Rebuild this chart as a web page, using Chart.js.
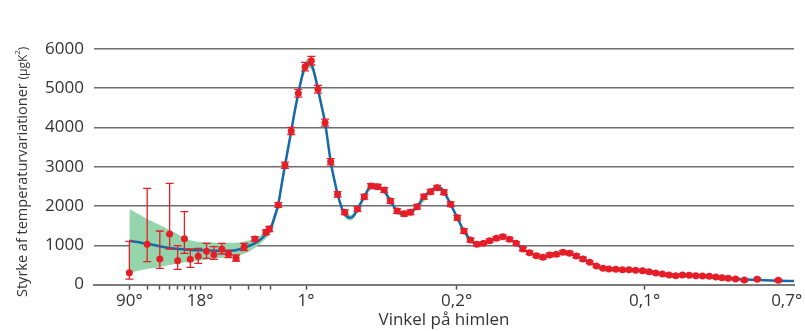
<!DOCTYPE html>
<html lang="da">
<head>
<meta charset="UTF-8">
<title>Styrke af temperaturvariationer</title>
<script src="https://cdn.jsdelivr.net/npm/chart.js"></script>
<style>
  html, body { margin: 0; padding: 0; background: #fff; }
</style>
</head>
<body>
<canvas id="cmb" width="805" height="331"></canvas>
<script>
// multipole l for every mark; the x axis is log up to l=50 and linear beyond
const xTickL    = [2, 3, 4, 5, 6, 7, 8, 9, 10, 20, 30, 40, 50, 219, 940, 1840, 2520];
const xTickText = ['90°', '', '', '', '', '', '', '', '18°', '', '', '', '', '1°', '0,2°', '0,1°', '0,7°'];
const yTicks    = [0, 1000, 2000, 3000, 4000, 5000, 6000];

// low-l points with their (asymmetric) error bars
const lowL  = [2, 3, 4, 5, 6, 7, 8, 9.6, 11.6, 13.7, 16.4, 19.1, 22.7, 27.3, 34.8, 44.8, 48.4];
const lowD  = [303, 1026, 652, 1288, 608, 1168, 644, 720, 847, 761, 906, 771, 669, 957, 1160, 1331, 1415];
const lowLo = [140, 583, 415, 906, 389, 797, 440, 542, 669, 644, 779, 685, 601, 863, 1100, 1270, 1350];
const lowHi = [1102, 2451, 1364, 2578, 990, 1855, 906, 924, 1051, 965, 1051, 873, 753, 1051, 1220, 1390, 1480];

// binned high-l points, symmetric errors
const highL = [86, 118, 148, 182, 214, 244, 276, 310, 337, 370, 404, 465, 498, 530, 562, 593, 623, 655, 689, 719,
               751, 783, 815, 847, 879, 911, 943, 975, 1006, 1037, 1069, 1098, 1130, 1161, 1193, 1225, 1257, 1289,
               1321, 1353, 1385, 1417, 1449, 1481, 1513, 1545, 1577, 1609, 1641, 1669, 1702, 1734, 1765, 1797,
               1830, 1861, 1893, 1925, 1957, 1989, 2021, 2053, 2085, 2117, 2149, 2181, 2210, 2240, 2275, 2317, 2379, 2480];
const highD = [2026, 3036, 3909, 4869, 5546, 5698, 4970, 4120, 3128, 2298, 1840, 1924, 2237, 2509, 2492, 2408, 2128, 1873, 1804, 1840,
               1983, 2237, 2364, 2466, 2349, 2044, 1703, 1364, 1135, 1026, 1051, 1117, 1178, 1219, 1153, 1051, 906, 812,
               736, 695, 753, 771, 822, 797, 728, 652, 568, 473, 415, 397, 389, 379, 379, 364,
               354, 328, 295, 270, 244, 227, 244, 237, 227, 219, 211, 193, 176, 160, 143, 117, 135, 109];
const highErr = [60, 80, 90, 100, 110, 110, 100, 90, 80, 70, 60, 60, 60, 60, 60, 60, 60, 60, 60, 60,
                 60, 60, 60, 60, 60, 60, 60, 60, 45, 45, 45, 45, 45, 45, 45, 45, 45, 45,
                 45, 45, 45, 45, 45, 45, 45, 45, 30, 30, 30, 30, 30, 30, 30, 30,
                 30, 30, 30, 30, 30, 30, 30, 30, 30, 30, 30, 30, 30, 30, 30, 30, 30, 30];

// best-fit model curve
const theoryL = [2, 3, 4, 5, 7, 10, 14, 18, 23, 29, 37, 46, 50, 60, 70, 86, 100, 118, 133, 148, 165, 182, 200, 214, 231,
                 248, 262, 276, 293, 310, 337, 355, 370, 390, 404, 430, 448, 465, 498, 520, 541, 562, 593, 623, 655,
                 687, 719, 751, 783, 815, 847, 865, 879, 911, 943, 975, 1006, 1037, 1069, 1098, 1130, 1161, 1193,
                 1225, 1257, 1289, 1321, 1353, 1385, 1417, 1449, 1481, 1513, 1545, 1577, 1609, 1641, 1673, 1705,
                 1765, 1830, 1893, 1957, 2021, 2085, 2149, 2210, 2275, 2380, 2480, 2555];
const theoryD = [1117, 1040, 975, 930, 895, 873, 860, 855, 880, 965, 1092, 1306, 1433, 1580, 1750, 2040, 2480, 3036, 3470, 3909, 4420, 4869, 5300, 5546, 5640,
                 5560, 5300, 4970, 4550, 4120, 3128, 2650, 2298, 1950, 1790, 1700, 1760, 1924, 2237, 2450, 2530, 2500, 2380, 2128, 1873,
                 1789, 1840, 1983, 2237, 2380, 2480, 2450, 2360, 2044, 1703, 1364, 1140, 1030, 1051, 1117, 1178, 1210, 1150,
                 1051, 906, 812, 736, 700, 745, 780, 810, 790, 728, 652, 568, 480, 420, 397, 389,
                 375, 350, 295, 248, 238, 225, 208, 178, 145, 120, 100, 90];

// cosmic variance band
const bandL  = [2, 3, 4, 5, 6, 7, 8, 9, 10, 12, 15, 20, 25, 30, 37, 46, 50, 60, 70, 86, 100, 118, 133, 148, 165, 182, 200, 214, 231,
                248, 262, 276, 293, 310, 337, 355, 370, 390, 404, 430, 448, 465, 498, 541, 593, 655, 687, 751, 815, 847, 879, 911, 975, 1037, 1100];
const bandHi = [1924, 1672, 1519, 1390, 1288, 1191, 1130, 1095, 1085, 1075, 1065, 1065, 1080, 1120, 1200, 1400, 1540, 1690, 1860, 2160, 2600, 3160, 3590, 4030, 4540, 4990, 5420, 5660, 5760,
                5680, 5420, 5090, 4670, 4230, 3230, 2740, 2380, 2020, 1860, 1770, 1830, 1990, 2300, 2590, 2440, 1930, 1850, 2040, 2440, 2540, 2420, 2100, 1420, 1080, 1160];
const bandLo = [303, 394, 450, 500, 530, 560, 580, 600, 615, 640, 670, 700, 750, 830, 980, 1210, 1330, 1470, 1640, 1920, 2360, 2910, 3350, 3790, 4300, 4750, 5180, 5430, 5520,
                5440, 5180, 4850, 4430, 4010, 3030, 2560, 2220, 1880, 1720, 1630, 1690, 1860, 2170, 2470, 2320, 1810, 1730, 1920, 2320, 2420, 2300, 1990, 1310, 980, 1075];

const RED = '#e61e28';
const BLUE = '#1769aa';
const GREEN = '#95d5ab';
const TEXT = '#333333';
const FONT = '"Open Sans", "Noto Sans", sans-serif';

// log10 up to l=50, then linear in l with matching pixel density
const LOG_END = 50;
const LIN_PER_L = 0.002065;
function toU(l) {
  return l <= LOG_END ? Math.log10(l) : Math.log10(LOG_END) + (l - LOG_END) * LIN_PER_L;
}
function fromU(u) {
  const ub = Math.log10(LOG_END);
  return u <= ub ? Math.pow(10, u) : LOG_END + (u - ub) / LIN_PER_L;
}

class HybridScale extends Chart.LinearScale {
  static id = 'hybrid';
  static defaults = {};
  buildTicks() {
    return xTickL.map(v => ({ value: v }));
  }
  getPixelForValue(v) {
    const a = toU(this.min), b = toU(this.max);
    return this.getPixelForDecimal((toU(v) - a) / (b - a));
  }
  getValueForPixel(p) {
    const a = toU(this.min), b = toU(this.max);
    return fromU(a + this.getDecimalForPixel(p) * (b - a));
  }
}
Chart.register(HybridScale);

const pts = (xs, ys) => xs.map((x, i) => ({ x: x, y: ys[i] }));

const errorBars = {
  id: 'errorBars',
  afterDatasetsDraw(chart) {
    const { ctx, scales: { x, y } } = chart;
    ctx.save();
    ctx.strokeStyle = RED;
    ctx.lineWidth = 1.3;
    const bar = (l, lo, hi) => {
      const px = x.getPixelForValue(l);
      const p1 = y.getPixelForValue(lo), p2 = y.getPixelForValue(hi);
      ctx.beginPath();
      ctx.moveTo(px, p1); ctx.lineTo(px, p2);
      ctx.moveTo(px - 4, p1); ctx.lineTo(px + 4, p1);
      ctx.moveTo(px - 4, p2); ctx.lineTo(px + 4, p2);
      ctx.stroke();
    };
    lowL.forEach((l, i) => bar(l, lowLo[i], lowHi[i]));
    highL.forEach((l, i) => bar(l, highD[i] - highErr[i], highD[i] + highErr[i]));
    ctx.restore();
  }
};

const yTitle = {
  id: 'yTitle',
  afterDraw(chart) {
    const ctx = chart.ctx;
    ctx.save();
    ctx.translate(26.5, 297);
    ctx.rotate(-Math.PI / 2);
    ctx.fillStyle = TEXT;
    ctx.textBaseline = 'alphabetic';
    let pos = 0;
    const part = (txt, size, dy) => {
      ctx.font = size + 'px ' + FONT;
      ctx.fillText(txt, pos, dy);
      pos += ctx.measureText(txt).width;
    };
    part('Styrke af temperaturvariationer ', 14.5, 0);
    part('(\u03bcgK', 12, 0);
    part('2', 8, -7);
    part(')', 12, 0);
    ctx.restore();
  }
};

new Chart(document.getElementById('cmb'), {
  type: 'line',
  data: {
    datasets: [
      { data: pts(lowL, lowD), showLine: false, pointRadius: 3.5, pointBackgroundColor: RED, pointBorderColor: RED, pointBorderWidth: 0, order: 0 },
      { data: pts(highL, highD), showLine: false, pointRadius: 3.5, pointBackgroundColor: RED, pointBorderColor: RED, pointBorderWidth: 0, order: 0 },
      { data: pts(theoryL, theoryD), borderColor: BLUE, borderWidth: 2.5, pointRadius: 0, cubicInterpolationMode: 'monotone', fill: false, order: 1 },
      { data: pts(bandL, bandHi), borderWidth: 0, borderColor: 'rgba(0,0,0,0)', pointRadius: 0, cubicInterpolationMode: 'monotone',
        backgroundColor: GREEN, fill: '+1', order: 2 },
      { data: pts(bandL, bandLo), borderWidth: 0, borderColor: 'rgba(0,0,0,0)', pointRadius: 0, cubicInterpolationMode: 'monotone',
        fill: false, order: 2 }
    ]
  },
  options: {
    responsive: false,
    animation: false,
    layout: { padding: { top: 48.8, right: 11, left: 0, bottom: 0 } },
    plugins: { legend: { display: false }, tooltip: { enabled: false } },
    scales: {
      x: {
        type: 'hybrid',
        min: 0.894,
        max: 2555,
        afterFit: s => { s.height = 46.4; },
        grid: {
          drawOnChartArea: false,
          drawTicks: true,
          tickLength: 5,
          tickWidth: 1.4,
          tickColor: c => (c.index === xTickL.length - 1 ? 'rgba(0,0,0,0)' : '#444')
        },
        border: { display: true, color: '#7a7a7a', width: 2 },
        ticks: {
          autoSkip: false,
          maxRotation: 0,
          padding: 1,
          color: TEXT,
          font: { family: FONT, size: 17 },
          callback: (v, i) => xTickText[i]
        },
        title: {
          display: true,
          text: 'Vinkel på himlen',
          color: TEXT,
          font: { family: FONT, size: 17 },
          padding: { top: 0, bottom: 1 }
        }
      },
      y: {
        min: 0,
        max: 6000,
        afterFit: s => { s.width = 94; },
        afterBuildTicks: s => { s.ticks = yTicks.map(v => ({ value: v })); },
        grid: { color: '#6e6e6e', lineWidth: 1.6, drawTicks: false },
        border: { display: false },
        ticks: {
          padding: 10,
          color: TEXT,
          font: { family: FONT, size: 17 },
          callback: v => String(v)
        }
      }
    }
  },
  plugins: [errorBars, yTitle]
});
</script>
</body>
</html>
